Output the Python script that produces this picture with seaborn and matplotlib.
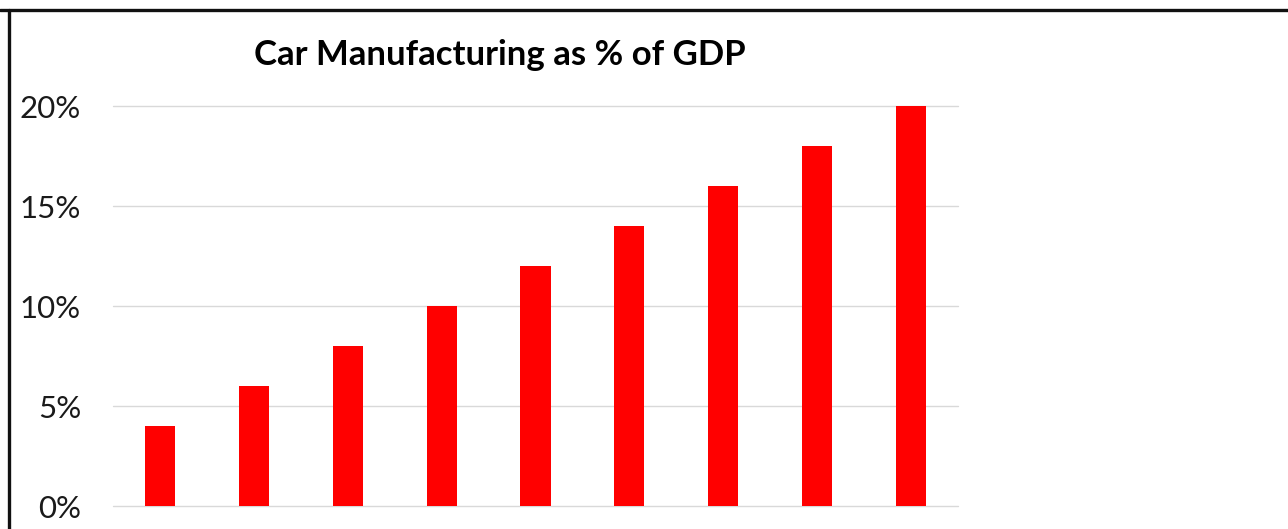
import matplotlib
matplotlib.use("Agg")
import matplotlib.pyplot as plt
from matplotlib.lines import Line2D
from matplotlib.ticker import FuncFormatter
import seaborn as sns
import pandas as pd

# Data
categories = ["1", "2", "3", "4", "5", "6", "7", "8", "9"]
values = [4, 6, 8, 10, 12, 14, 16, 18, 20]
y_ticks = [0, 5, 10, 15, 20]
title = "Car Manufacturing as % of GDP"

df = pd.DataFrame({"cat": categories, "val": values})

sns.set_theme(style="white")
plt.rcParams['font.family'] = ['Lato', 'DejaVu Sans']

W, H = 1288, 529
fig = plt.figure(figsize=(W / 100, H / 100), dpi=100)
ax = fig.add_axes([113 / W, (H - 506) / H, (958 - 113) / W, 400 / H])

sns.barplot(data=df, x="cat", y="val", color="#ff0000", saturation=1,
            width=0.32, ax=ax, zorder=3)
for p in ax.patches:
    p.set_edgecolor("none")

ax.set_ylim(0, 20)
ax.set_xlim(-0.5, len(categories) - 0.5)
ax.set_yticks(y_ticks)
ax.yaxis.set_major_formatter(FuncFormatter(lambda v, _: f"{int(v)}%"))
ax.tick_params(axis="y", length=0, pad=23, labelsize=22.5, labelcolor="#1a1a1a")
ax.set_xticks([])
ax.set_xlabel("")
ax.set_ylabel("")
ax.grid(axis="y", color="#d9d9d9", linewidth=1.0, zorder=0)
for gl in ax.get_ygridlines():
    gl.set_clip_on(False)
ax.set_axisbelow(True)
for s in ax.spines.values():
    s.set_visible(False)

fig.text(500 / W, 1 - 55 / H, title, ha="center", va="center",
         fontsize=25, fontweight="bold", color="#000000")

# figure frame (top and left edges visible)
fig.add_artist(Line2D([0, 1], [1 - 9.5 / H, 1 - 9.5 / H], transform=fig.transFigure,
                      color="#111111", linewidth=2.4))
fig.add_artist(Line2D([8.5 / W, 8.5 / W], [0, 1 - 9.5 / H], transform=fig.transFigure,
                      color="#111111", linewidth=2.4))

fig.savefig("out.png", dpi=100, facecolor="white")
